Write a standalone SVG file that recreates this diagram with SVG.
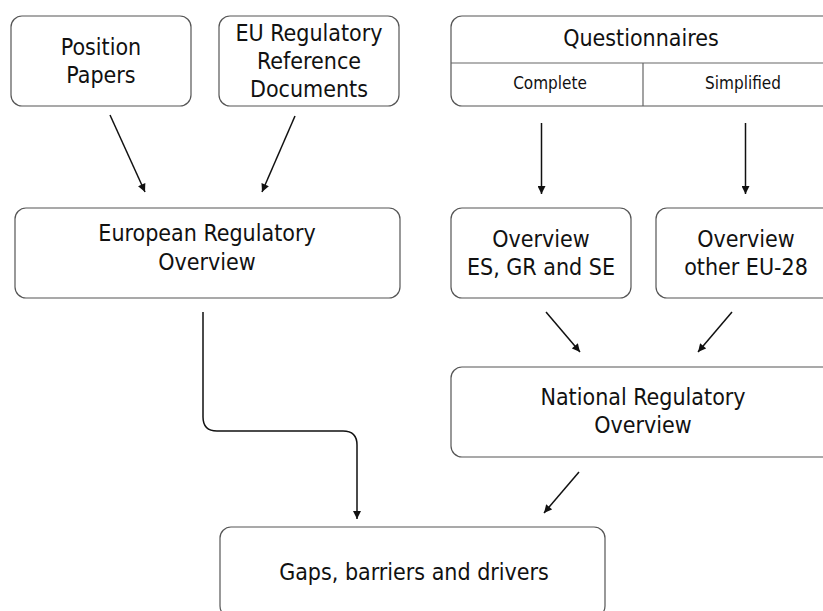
<svg xmlns="http://www.w3.org/2000/svg" width="823" height="611" viewBox="0 0 823 611">
  <defs>
    <marker id="arrow" viewBox="0 0 10 10" refX="10" refY="5" markerWidth="9" markerHeight="8" markerUnits="userSpaceOnUse" orient="auto">
      <path d="M0,0 L10,5 L0,10 z" fill="#111"/>
    </marker>
    <style>
      .box { fill: #fff; stroke: #555; stroke-width: 1.2; }
      .div { fill: none; stroke: #666; stroke-width: 1.2; }
      .lbl { font-family: "DejaVu Sans Condensed", "DejaVu Sans", "Liberation Sans", sans-serif; font-stretch: condensed; font-size: 23px; fill: #111; text-anchor: middle; }
      .sub { font-size: 17px; }
      .edge { fill: none; stroke: #111; stroke-width: 1.5; marker-end: url(#arrow); }
    </style>
  </defs>
  <rect width="823" height="611" fill="#fff"/>

  <g id="position-papers">
    <rect class="box" x="11" y="16" width="180" height="90" rx="11"/>
    <text class="lbl" x="101" y="55">Position</text>
    <text class="lbl" x="101" y="83">Papers</text>
  </g>

  <g id="eu-reference-documents">
    <rect class="box" x="219" y="16" width="180" height="90" rx="11"/>
    <text class="lbl" x="309" y="41">EU Regulatory</text>
    <text class="lbl" x="309" y="69">Reference</text>
    <text class="lbl" x="309" y="97">Documents</text>
  </g>

  <g id="questionnaires">
    <rect class="box" x="451" y="16" width="390" height="90" rx="11"/>
    <path class="div" d="M451,63 H841 M643,63 V106"/>
    <text class="lbl" x="641" y="46">Questionnaires</text>
    <text class="lbl sub" x="550" y="89">Complete</text>
    <text class="lbl sub" x="743" y="89">Simplified</text>
  </g>

  <g id="european-overview">
    <rect class="box" x="15" y="208" width="385" height="90" rx="11"/>
    <text class="lbl" x="207" y="241">European Regulatory</text>
    <text class="lbl" x="207" y="270">Overview</text>
  </g>

  <g id="overview-es-gr-se">
    <rect class="box" x="451" y="208" width="180" height="90" rx="11"/>
    <text class="lbl" x="541" y="247">Overview</text>
    <text class="lbl" x="541" y="275">ES, GR and SE</text>
  </g>

  <g id="overview-other">
    <rect class="box" x="656" y="208" width="180" height="90" rx="11"/>
    <text class="lbl" x="746" y="247">Overview</text>
    <text class="lbl" x="746" y="275">other EU-28</text>
  </g>

  <g id="national-overview">
    <rect class="box" x="451" y="367" width="385" height="90" rx="11"/>
    <text class="lbl" x="643" y="405">National Regulatory</text>
    <text class="lbl" x="643" y="433">Overview</text>
  </g>

  <g id="gaps">
    <rect class="box" x="220" y="527" width="385" height="90" rx="11"/>
    <text class="lbl" x="414" y="580">Gaps, barriers and drivers</text>
  </g>

  <g id="connectors">
    <path class="edge" d="M110,115 L145,192"/>
    <path class="edge" d="M295,116 L262,192"/>
    <path class="edge" d="M541.5,123 V194"/>
    <path class="edge" d="M745.5,123 V194"/>
    <path class="edge" d="M546,312 L580,352"/>
    <path class="edge" d="M732,312 L698,352"/>
    <path class="edge" d="M579,472 L544,513"/>
    <path class="edge" d="M203,312 V417 Q203,431 217,431 H343 Q357,431 357,445 V519"/>
  </g>
</svg>
